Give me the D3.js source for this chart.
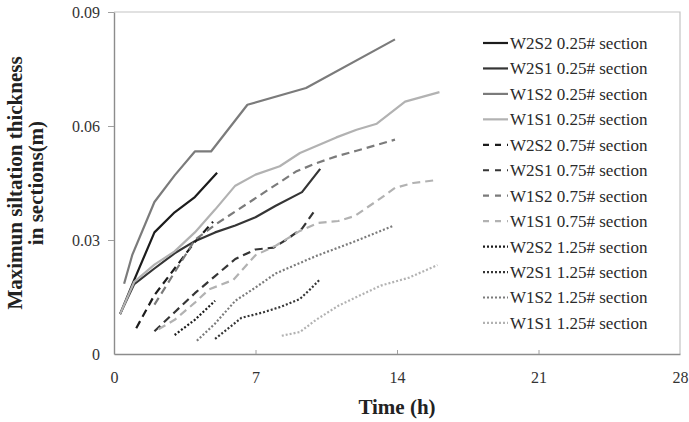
<!DOCTYPE html>
<html>
<head>
<meta charset="utf-8">
<script src="https://cdn.jsdelivr.net/npm/d3@7"></script>
<style>
  html, body { margin: 0; padding: 0; background: #fff; }
  svg { display: block; }
  svg text { font-family: "Liberation Serif", "Times New Roman", serif; }
</style>
</head>
<body>
<svg id="chart" width="689" height="422"></svg>
<script>
// Siltation thickness (m) versus time (h) for each test case and section
const xTicks = [0, 7, 14, 21, 28];
const yTicks = [0, 0.03, 0.06, 0.09];

const seriesNames = [
  "W2S2 0.25# section", "W2S1 0.25# section", "W1S2 0.25# section", "W1S1 0.25# section",
  "W2S2 0.75# section", "W2S1 0.75# section", "W1S2 0.75# section", "W1S1 0.75# section",
  "W2S2 1.25# section", "W2S1 1.25# section", "W1S2 1.25# section", "W1S1 1.25# section"
];

// [time (h), thickness (m)]
const w2s2_025 = [[0.3,0.0105],[1.0,0.0195],[2.0,0.032],[3.0,0.0373],[4.0,0.0413],[5.1,0.0477]];
const w2s1_025 = [[0.3,0.0105],[1.0,0.0184],[2.0,0.0225],[3.0,0.0265],[4.0,0.0297],[5.0,0.032],
                  [6.0,0.0338],[7.0,0.036],[8.0,0.039],[9.3,0.0426],[10.2,0.0487]];
const w1s2_025 = [[0.5,0.0185],[0.9,0.026],[2.0,0.040],[3.0,0.047],[4.0,0.0533],[4.8,0.0533],
                  [6.6,0.0656],[9.5,0.070],[13.9,0.0828]];
const w1s1_025 = [[0.3,0.0105],[1.0,0.019],[2.0,0.0235],[3.0,0.027],[4.0,0.032],[5.0,0.038],
                  [6.0,0.0443],[7.0,0.0472],[8.2,0.0494],[9.2,0.0529],[11.0,0.057],[12.0,0.059],
                  [13.0,0.0606],[14.4,0.0664],[16.1,0.0689]];
const w2s2_075 = [[1.1,0.0068],[2.0,0.0155],[3.0,0.0225],[4.0,0.0295],[4.9,0.0348]];
const w2s1_075 = [[2.0,0.006],[3.0,0.011],[4.0,0.016],[5.0,0.0205],[6.0,0.025],[7.0,0.0275],
                  [7.9,0.028],[8.5,0.030],[9.3,0.033],[9.9,0.0375]];
const w1s2_075 = [[2.0,0.013],[3.0,0.0215],[4.0,0.030],[5.0,0.034],[6.0,0.0375],[7.0,0.041],
                  [8.0,0.0445],[9.0,0.048],[10.0,0.0502],[11.0,0.052],[12.0,0.0535],[13.0,0.055],
                  [13.9,0.0564]];
const w1s1_075 = [[2.2,0.0065],[3.0,0.009],[4.0,0.0135],[4.7,0.017],[5.9,0.0195],[7.0,0.026],
                  [8.0,0.0285],[9.2,0.0324],[10.1,0.0345],[11.1,0.035],[11.9,0.0363],[13.2,0.041],
                  [13.9,0.0437],[14.8,0.045],[16.0,0.0458]];
const w2s2_125 = [[3.0,0.005],[4.0,0.009],[5.0,0.014]];
const w2s1_125 = [[5.0,0.004],[5.6,0.0065],[6.3,0.0095],[7.4,0.011],[8.3,0.0125],[9.2,0.0145],
                  [9.7,0.017],[10.2,0.0197]];
const w1s2_125 = [[4.1,0.0035],[5.0,0.008],[6.0,0.014],[7.0,0.0175],[8.0,0.0212],[9.0,0.0235],
                  [10.0,0.0258],[11.0,0.0278],[12.0,0.0298],[13.0,0.032],[13.8,0.0337]];
const w1s1_125 = [[8.3,0.0048],[9.2,0.0058],[10.0,0.009],[11.1,0.0127],[12.0,0.015],[13.2,0.018],
                  [14.6,0.0201],[16.0,0.0234]];

const seriesValues = [
  w2s2_025, w2s1_025, w1s2_025, w1s1_025,
  w2s2_075, w2s1_075, w1s2_075, w1s1_075,
  w2s2_125, w2s1_125, w1s2_125, w1s1_125
];

// Grey level per case, dash style per section
const caseColors = ["#1c1c1c", "#353535", "#7b7b7b", "#b2b2b2"];
const sectionDash = ["none", "8,5", "2,2"];
const legendDash = ["none", "6,6", "2,2"];

const serif = "'Liberation Serif', 'Times New Roman', serif";
const svg = d3.select("#chart");
const plotLeft = 114, plotRight = 680, plotTop = 12, plotBottom = 354;

const x = d3.scaleLinear().domain([0, 28]).range([plotLeft, plotRight]);
const y = d3.scaleLinear().domain([0, 0.09]).range([plotBottom, plotTop]);

// Plot frame (top and right edges)
svg.append("path")
  .attr("d", `M${plotLeft},${plotTop}H${plotRight}V${plotBottom}`)
  .attr("fill", "none").attr("stroke", "#c4c4c4").attr("stroke-width", 1.2);

// X axis: ticks point up into the plot
const gx = svg.append("g").attr("transform", `translate(0,${plotBottom})`)
  .call(d3.axisBottom(x).tickValues(xTicks).tickSize(-4).tickSizeOuter(0).tickPadding(18)
    .tickFormat(d3.format("d")))
  .attr("font-family", serif);
gx.select(".domain").attr("stroke", "#8c8c8c").attr("stroke-width", 1.4);
gx.selectAll(".tick line").attr("stroke", "#a0a0a0");
gx.selectAll(".tick text").attr("font-size", 16).attr("fill", "#333");
gx.selectAll(".tick").filter(d => d === 0 || d === 28).select("line").remove();

// Y axis: ticks point out to the left
const gy = svg.append("g").attr("transform", `translate(${plotLeft},0)`)
  .call(d3.axisLeft(y).tickValues(yTicks).tickSize(6).tickSizeOuter(0).tickPadding(8)
    .tickFormat(d => d === 0 ? "0" : d3.format(".2f")(d)))
  .attr("font-family", serif);
gy.select(".domain").attr("stroke", "#8c8c8c").attr("stroke-width", 1.4);
gy.selectAll(".tick line").attr("stroke", "#a0a0a0");
gy.selectAll(".tick text").attr("font-size", 16).attr("fill", "#333");
gy.selectAll(".tick").filter(d => d === 0).select("line").remove();

// Axis titles
svg.append("text")
  .attr("x", 397).attr("y", 414)
  .attr("text-anchor", "middle")
  .attr("font-size", 21).attr("font-weight", "bold").attr("fill", "#222")
  .text("Time (h)");

const yTitle = svg.append("text")
  .attr("transform", "translate(0,183) rotate(-90)")
  .attr("text-anchor", "middle")
  .attr("font-size", 21).attr("font-weight", "bold").attr("fill", "#222");
yTitle.append("tspan").attr("x", 0).attr("y", 22).text("Maximun siltation thickness");
yTitle.append("tspan").attr("x", 0).attr("y", 43).text("in sections(m)");

// Series lines
const line = d3.line().x(d => x(d[0])).y(d => y(d[1]));
const plot = svg.append("g");
seriesValues.forEach((vals, i) => {
  plot.append("path")
    .datum(vals)
    .attr("d", line)
    .attr("fill", "none")
    .attr("stroke", caseColors[i % 4])
    .attr("stroke-width", 2.2)
    .attr("stroke-dasharray", sectionDash[Math.floor(i / 4)])
    .attr("stroke-linejoin", "round");
});

// Legend
const legend = svg.append("g");
const legendX = 483, legendY0 = 43, legendStep = 25.45;
seriesNames.forEach((name, i) => {
  const yy = legendY0 + i * legendStep;
  legend.append("line")
    .attr("x1", legendX).attr("x2", legendX + 25)
    .attr("y1", yy).attr("y2", yy)
    .attr("stroke", caseColors[i % 4])
    .attr("stroke-width", 2.2)
    .attr("stroke-dasharray", legendDash[Math.floor(i / 4)]);
  legend.append("text")
    .attr("x", legendX + 27).attr("y", yy)
    .attr("dy", "0.35em")
    .attr("font-size", 17).attr("fill", "#2a2a2a")
    .text(name);
});
</script>
</body>
</html>
